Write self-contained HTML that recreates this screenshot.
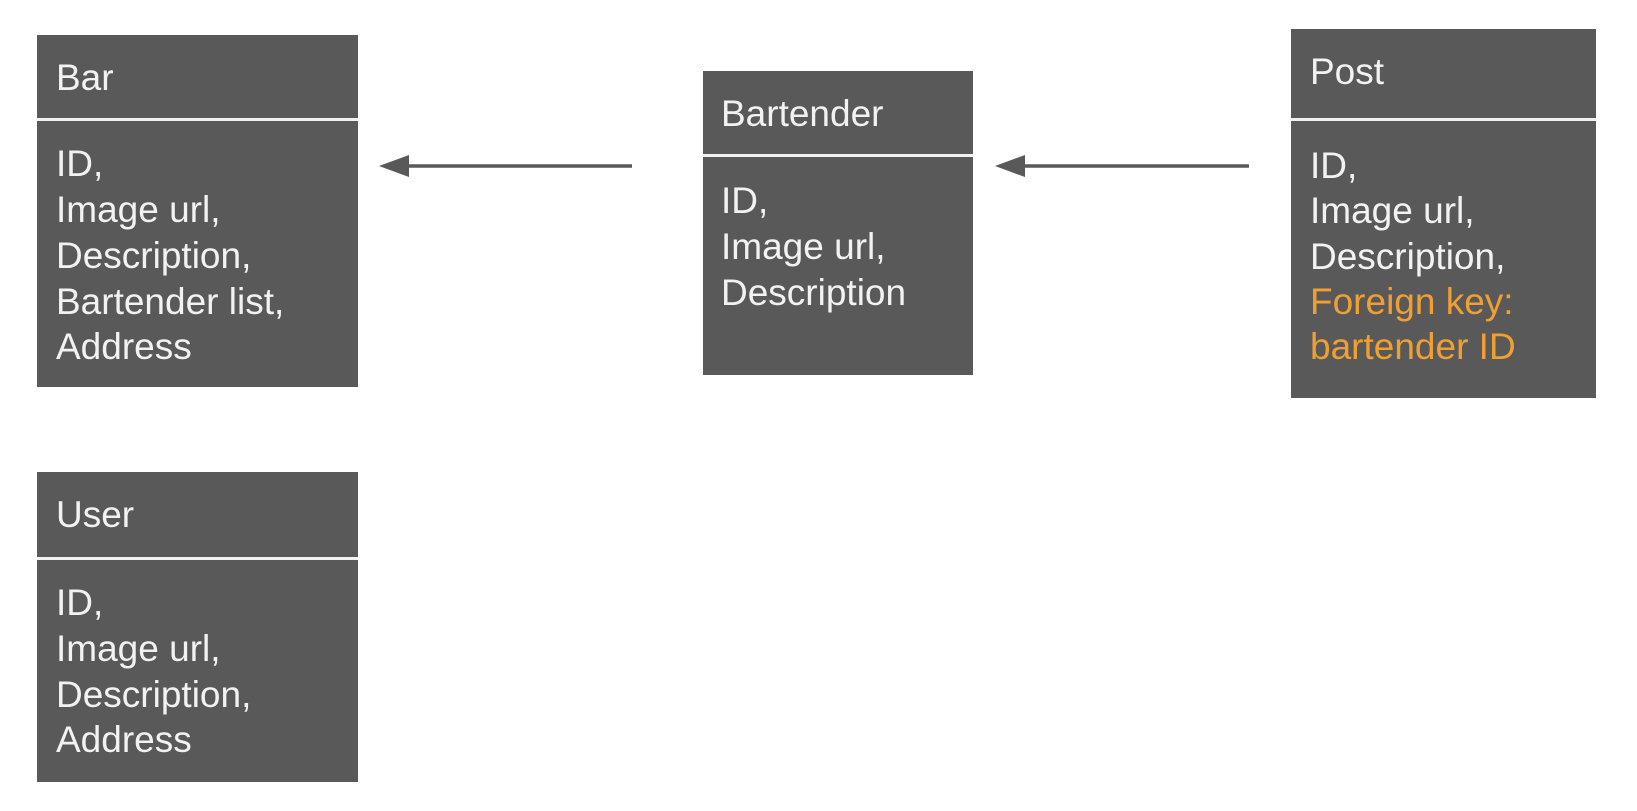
<!DOCTYPE html>
<html><head><meta charset="utf-8"><style>
html,body{margin:0;padding:0;background:#fff;}
svg{display:block;}
text{font-family:"Liberation Sans",Arial,sans-serif;font-size:37px;fill:#f2f2f2;}
.o{fill:#f0a033;}
</style></head><body>
<svg width="1637" height="811" viewBox="0 0 1637 811" xmlns="http://www.w3.org/2000/svg">
<!-- Bar -->
<rect x="37" y="35" width="321" height="352" fill="#595959"/>
<rect x="37" y="118" width="321" height="3" fill="#f2f2f2"/>
<text x="56" y="90">Bar</text>
<text x="56" y="176">ID,</text>
<text x="56" y="222">Image url,</text>
<text x="56" y="268">Description,</text>
<text x="56" y="314">Bartender list,</text>
<text x="56" y="359">Address</text>
<!-- Bartender -->
<rect x="703" y="71" width="270" height="304" fill="#595959"/>
<rect x="703" y="154" width="270" height="3" fill="#f2f2f2"/>
<text x="721" y="126">Bartender</text>
<text x="721" y="213">ID,</text>
<text x="721" y="259">Image url,</text>
<text x="721" y="305">Description</text>
<!-- Post -->
<rect x="1291" y="29" width="305" height="369" fill="#595959"/>
<rect x="1291" y="118" width="305" height="3" fill="#f2f2f2"/>
<text x="1310" y="84">Post</text>
<text x="1310" y="178">ID,</text>
<text x="1310" y="223">Image url,</text>
<text x="1310" y="269">Description,</text>
<text class="o" x="1310" y="314">Foreign key:</text>
<text class="o" x="1310" y="359">bartender ID</text>
<!-- User -->
<rect x="37" y="472" width="321" height="310" fill="#595959"/>
<rect x="37" y="557" width="321" height="3" fill="#f2f2f2"/>
<text x="56" y="527">User</text>
<text x="56" y="615">ID,</text>
<text x="56" y="661">Image url,</text>
<text x="56" y="707">Description,</text>
<text x="56" y="752">Address</text>
<!-- Arrows -->
<line x1="632" y1="166" x2="400" y2="166" stroke="#595959" stroke-width="3.5"/>
<polygon points="379,166 409,155 409,177" fill="#595959"/>
<line x1="1249" y1="166" x2="1015" y2="166" stroke="#595959" stroke-width="3.5"/>
<polygon points="995,166 1025,155 1025,177" fill="#595959"/>
</svg>
</body></html>
